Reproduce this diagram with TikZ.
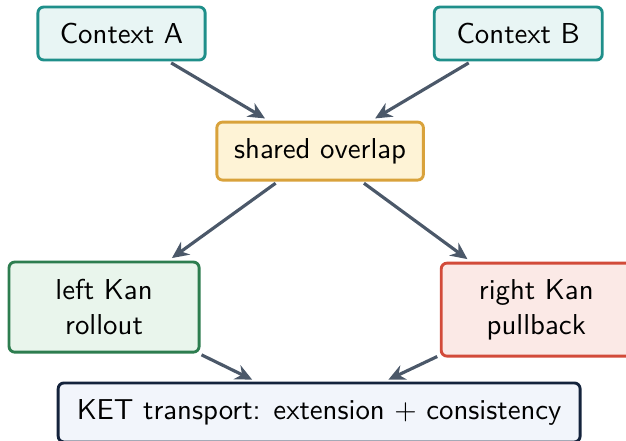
\documentclass[tikz,border=0pt]{standalone}
\usepackage{tikz}
\usetikzlibrary{arrows.meta}
\tikzset{>={Stealth[length=5.8pt,width=5.4pt]}}
\definecolor{context teal}{HTML}{1F8F8A}
\definecolor{context fill}{HTML}{E8F5F4}
\definecolor{overlap amber}{HTML}{D9A23B}
\definecolor{overlap fill}{HTML}{FEF3D6}
\definecolor{left green}{HTML}{2D7D4F}
\definecolor{left fill}{HTML}{E9F5EC}
\definecolor{right red}{HTML}{D24B3A}
\definecolor{right fill}{HTML}{FBE9E6}
\definecolor{ket navy}{HTML}{14233C}
\definecolor{ket fill}{HTML}{F2F5FB}
\definecolor{arrow slate}{HTML}{4B5869}

\begin{document}
\begin{tikzpicture}
            \tikzset{box/.style={draw=#1, fill=#1!10, line width=1pt, rounded corners=2pt, inner xsep=6pt, align=center, font=\sffamily}}
            \tikzset{flow/.style={->, draw=arrow slate, line width=1.1pt, shorten <=1pt, shorten >=1.5pt}}
            \useasboundingbox (0, 0) rectangle (7.64, -5.38);
            \node[box=context teal, fill=context fill, minimum width=2.04cm, minimum height=0.647cm] (ctxA) at (1.483, -0.409) {Context A};
            \node[box=context teal, fill=context fill, minimum width=2.05cm, minimum height=0.647cm] (ctxB) at (6.325, -0.409) {Context B};
            \node[box=overlap amber, fill=overlap fill, minimum width=2.515cm, minimum height=0.708cm] (overlap) at (3.907, -1.844) {shared overlap};
            \node[box=left green, fill=left fill, minimum width=2.32cm, minimum height=1.10cm] (leftkan) at (1.270, -3.748) {left Kan\\rollout};
            \node[box=right red, fill=right fill, minimum width=2.32cm, minimum height=1.135cm] (rightkan) at (6.545, -3.779) {right Kan\\pullback};
            \node[box=ket navy, fill=ket fill, minimum width=6.37cm, minimum height=0.72cm] (ket) at (3.895, -5.034) {KET transport: extension $+$ consistency};

            \draw[flow] (ctxA) -- (overlap);
            \draw[flow] (ctxB) -- (overlap);
            \draw[flow] (overlap) -- (leftkan);
            \draw[flow] (overlap) -- (rightkan);
            \draw[flow] (leftkan) -- (ket);
            \draw[flow] (rightkan) -- (ket);
        \end{tikzpicture}
\end{document}
